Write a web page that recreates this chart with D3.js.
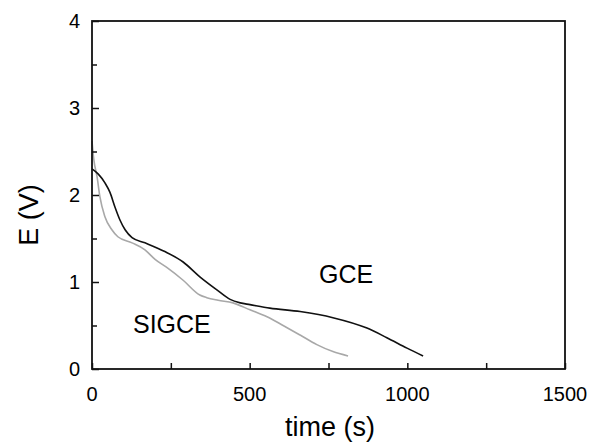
<!DOCTYPE html>
<html>
<head>
<meta charset="utf-8">
<script src="https://cdn.jsdelivr.net/npm/d3@7"></script>
<style>
  body { margin: 0; background: #fff; }
  text { font-family: "Liberation Sans", Arial, sans-serif; fill: #000; }
</style>
</head>
<body>
<div id="chart"></div>
<script>
// data
const gceTime = [0, 20, 41, 57, 73, 89, 105, 127, 168, 231, 289, 342, 396, 438, 470, 501, 564, 660, 764, 872, 935, 999, 1050];
const gceE    = [2.30, 2.24, 2.14, 2.03, 1.86, 1.71, 1.60, 1.51, 1.45, 1.35, 1.23, 1.06, 0.91, 0.80, 0.76, 0.74, 0.70, 0.66, 0.59, 0.47, 0.36, 0.24, 0.15];

const sigceTime = [0, 3, 6, 16, 25, 41, 63, 82, 127, 168, 200, 236, 289, 342, 364, 400, 447, 501, 555, 606, 660, 713, 764, 812];
const sigceE    = [2.62, 2.50, 2.40, 2.21, 1.98, 1.75, 1.60, 1.52, 1.45, 1.37, 1.26, 1.17, 1.02, 0.85, 0.82, 0.79, 0.76, 0.68, 0.60, 0.50, 0.39, 0.28, 0.20, 0.15];

const xTicks = [0, 250, 500, 750, 1000, 1250, 1500];
const xLabels = [0, 500, 1000, 1500];
const yTicks = [0, 0.5, 1, 1.5, 2, 2.5, 3, 3.5, 4];
const yLabels = [0, 1, 2, 3, 4];

// ===============================
// Layout
// ===============================
const W = 593, H = 445;
const plot = { left: 92, right: 565, top: 21, bottom: 369 };

const x = d3.scaleLinear().domain([0, 1500]).range([plot.left, plot.right]);
const y = d3.scaleLinear().domain([0, 4]).range([plot.bottom, plot.top]);

const svg = d3.select("#chart").append("svg")
  .attr("width", W)
  .attr("height", H);

// curves
const line = d3.line()
  .x(d => x(d[0]))
  .y(d => y(d[1]))
  .curve(d3.curveMonotoneX);

const gce = gceTime.map((t, i) => [t, gceE[i]]);
const sigce = sigceTime.map((t, i) => [t, sigceE[i]]);

svg.append("path")
  .attr("d", line(sigce))
  .attr("fill", "none")
  .attr("stroke", "#a8a8a8")
  .attr("stroke-width", 1.6);

svg.append("path")
  .attr("d", line(gce))
  .attr("fill", "none")
  .attr("stroke", "#111")
  .attr("stroke-width", 1.6);

// frame
svg.append("rect")
  .attr("x", plot.left)
  .attr("y", plot.top)
  .attr("width", plot.right - plot.left)
  .attr("height", plot.bottom - plot.top)
  .attr("fill", "none")
  .attr("stroke", "#111")
  .attr("stroke-width", 1.8);

// x axis (ticks inside)
const xAxis = d3.axisBottom(x)
  .tickValues(xTicks)
  .tickSizeInner(-6)
  .tickSizeOuter(0)
  .tickFormat("");

svg.append("g")
  .attr("transform", `translate(0,${plot.bottom})`)
  .call(xAxis)
  .call(g => g.select(".domain").remove())
  .call(g => g.selectAll(".tick line").attr("stroke", "#111").attr("stroke-width", 1.5));

svg.append("g")
  .selectAll("text")
  .data(xLabels)
  .join("text")
  .attr("x", d => x(d))
  .attr("y", 401)
  .attr("text-anchor", "middle")
  .attr("font-size", "20px")
  .text(d => d);

// y axis (ticks inside, integers longer)
const yAxis = d3.axisLeft(y)
  .tickValues(yTicks)
  .tickSizeOuter(0)
  .tickFormat("");

svg.append("g")
  .attr("transform", `translate(${plot.left},0)`)
  .call(yAxis)
  .call(g => g.select(".domain").remove())
  .call(g => g.selectAll(".tick line")
    .attr("x2", d => Number.isInteger(d) ? 7 : 5)
    .attr("stroke", "#111")
    .attr("stroke-width", 1.5));

svg.append("g")
  .selectAll("text")
  .data(yLabels)
  .join("text")
  .attr("x", 80)
  .attr("y", d => y(d) + 7)
  .attr("text-anchor", "end")
  .attr("font-size", "20px")
  .text(d => d);

// axis titles
svg.append("text")
  .attr("x", 330)
  .attr("y", 436)
  .attr("text-anchor", "middle")
  .attr("font-size", "27px")
  .text("time (s)");

svg.append("text")
  .attr("transform", "translate(38,215) rotate(-90)")
  .attr("text-anchor", "middle")
  .attr("font-size", "27px")
  .text("E (V)");

// series labels
svg.append("text")
  .attr("x", 319)
  .attr("y", 283)
  .attr("font-size", "25px")
  .text("GCE");

svg.append("text")
  .attr("x", 133)
  .attr("y", 333)
  .attr("font-size", "25px")
  .text("SIGCE");
</script>
</body>
</html>
